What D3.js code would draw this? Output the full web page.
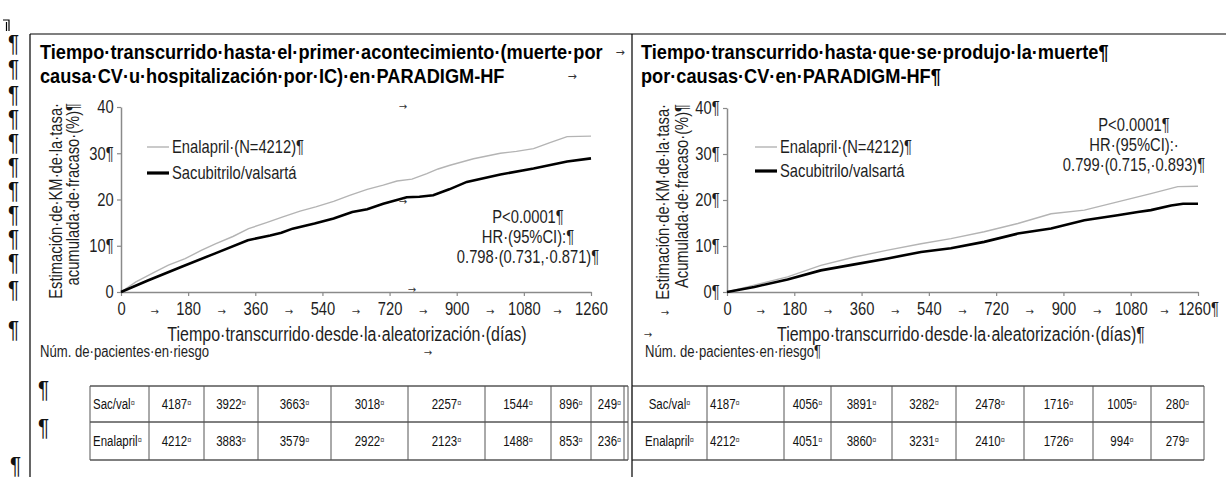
<!DOCTYPE html>
<html>
<head>
<meta charset="utf-8">
<script src="https://cdn.jsdelivr.net/npm/d3@7"></script>
<style>
body { margin: 0; background: #fff; }
svg { display: block; }
text { font-family: "Liberation Sans", Arial, sans-serif; }
</style>
</head>
<body>
<div id="chart"></div>
<script>
// axis ticks
var dayTicks = [0, 180, 360, 540, 720, 900, 1080, 1260];
var pctTicks = [0, 10, 20, 30, 40];

// KM curves [day, %]
var cvhfEnalapril = [[0,0],[40,2.2],[90,4.3],[127,5.8],[172,7.2],[215,9.0],[253,10.4],[300,12.0],[342,13.7],[390,15.0],[432,16.2],[480,17.5],[522,18.4],[570,19.6],[613,20.9],[660,22.2],[703,23.1],[740,24.0],[780,24.4],[820,25.6],[850,26.6],[882,27.4],[945,28.8],[1017,30.0],[1060,30.4],[1106,31.0],[1150,32.3],[1196,33.6],[1260,33.7]];
var cvhfSacval = [[0,0],[72,2.5],[161,5.4],[251,8.3],[340,11.2],[400,12.2],[430,12.8],[460,13.7],[519,14.8],[570,15.9],[620,17.3],[660,17.9],[703,19.1],[766,20.5],[800,20.6],[837,20.9],[880,22.2],[927,23.8],[1017,25.4],[1106,26.7],[1196,28.2],[1260,28.9]];
var cvdEnalapril = [[0,0],[73,1.5],[162,3.3],[251,5.8],[341,7.6],[430,9.1],[519,10.5],[599,11.6],[688,13.1],[778,14.9],[867,17.0],[956,17.8],[1045,19.6],[1134,21.4],[1206,22.9],[1260,23.0]];
var cvdSacval = [[0,0],[73,1.1],[162,2.7],[251,4.7],[341,6.0],[430,7.3],[519,8.7],[599,9.5],[688,10.9],[778,12.7],[867,13.8],[956,15.6],[1045,16.7],[1099,17.4],[1134,17.8],[1188,18.8],[1220,19.2],[1260,19.2]];

// numbers at risk
var riskLabels = ["Sac/val", "Enalapril"];
var cvhfRiskSacval = [4187, 3922, 3663, 3018, 2257, 1544, 896, 249];
var cvhfRiskEnalapril = [4212, 3883, 3579, 2922, 2123, 1488, 853, 236];
var cvdRiskSacval = [4187, 4056, 3891, 3282, 2478, 1716, 1005, 280];
var cvdRiskEnalapril = [4212, 4051, 3860, 3231, 2410, 1726, 994, 279];

var svgWidth = 1226;
var svgHeight = 477;
var axisGrey = "#8a8a8a";
var ink = "#1e1e1e";
var narrow = 0.82; // no Arial Narrow here, so squeeze Liberation Sans

var svg = d3.select("#chart")
  .append("svg")
  .attr("width", svgWidth)
  .attr("height", svgHeight);

svg.append("rect").attr("width", svgWidth).attr("height", svgHeight).attr("fill", "#fff");

// narrow text helper
function ntext(parent, x, y, str, size, anchor, sx) {
  return parent.append("text")
    .attr("transform", `translate(${x},${y}) scale(${sx || narrow},1)`)
    .attr("text-anchor", anchor || "start")
    .style("font-size", size + "px")
    .attr("fill", ink)
    .text(str);
}

// word processor frame lines
svg.append("path")
  .attr("d", "M30,34H1226M30,34V477M632,34V477")
  .attr("stroke", "#000").attr("stroke-width", 1.2).attr("fill", "none");
svg.append("path")
  .attr("d", "M3,20H9V31M6.5,22V31")
  .attr("stroke", "#000").attr("stroke-width", 1.2).attr("fill", "none");

function pilcrow(x, y) {
  svg.append("text")
    .attr("transform", `translate(${x},${y}) scale(0.9,1)`)
    .style("font-size", "23px")
    .attr("fill", "#111")
    .text("¶");
}

// paragraph marks down the left margin
var pilcrowY = [44, 69, 95, 119, 143, 167, 191, 215, 239, 263, 290, 330];
pilcrowY.forEach(function(d) { pilcrow(8, d + 8); });

function arrow(x, y, size) {
  svg.append("text")
    .attr("x", x).attr("y", y)
    .attr("text-anchor", "middle")
    .style("font-family", "DejaVu Sans, sans-serif")
    .style("font-size", (size || 10) + "px")
    .attr("fill", "#333")
    .text("→");
}

function drawPanel(p) {
  var x = d3.scaleLinear().domain([0, 1260]).range([p.left, p.right]);
  var y = d3.scaleLinear().domain([0, 40]).range([p.bottom, p.top]);
  var g = svg.append("g");

  // titles
  p.title.forEach(function(t, i) {
    ntext(g, p.titleX, 59 + i * 24, t, 20, "start", 0.91).style("font-weight", "bold").attr("fill", "#000");
  });

  // axes
  var xAxis = d3.axisBottom(x).tickValues(dayTicks).tickSize(4).tickSizeOuter(0).tickPadding(6)
    .tickFormat(p.xFormat);
  var yAxis = d3.axisLeft(y).tickValues(pctTicks).tickSize(4).tickSizeOuter(0).tickPadding(5)
    .tickFormat(p.yFormat);

  var gx = g.append("g").attr("transform", `translate(0,${p.bottom})`).call(xAxis);
  var gy = g.append("g").attr("transform", `translate(${p.left},0)`).call(yAxis);
  [gx, gy].forEach(function(a) {
    a.select(".domain").attr("stroke", axisGrey).attr("stroke-width", 1.5);
    a.selectAll(".tick line").attr("stroke", axisGrey).attr("stroke-width", 1.2);
    a.selectAll(".tick text").attr("fill", ink).style("font-size", "18px")
      .style("font-family", "Liberation Sans, Arial, sans-serif")
      .attr("transform", `scale(${narrow},1)`);
  });

  // tab arrows between x labels
  for (var i = 0; i < dayTicks.length - 1; i++) {
    arrow((x(dayTicks[i]) + x(dayTicks[i + 1])) / 2, p.bottom + 23);
  }

  // y axis title (two rotated lines)
  p.yTitle.forEach(function(t, i) {
    g.append("text")
      .attr("transform", `translate(${p.yTitleX[i]},${p.top - 4}) rotate(-90) scale(${narrow},1)`)
      .attr("text-anchor", "end")
      .style("font-size", "18px")
      .attr("fill", ink)
      .text(t);
  });

  // x axis title
  ntext(g, p.xTitleX, 341, "Tiempo·transcurrido·desde·la·aleatorización·(días)" + p.xTitleEnd, 19.5, p.xTitleAnchor);

  ntext(g, p.riskX, 357, "Núm. de·pacientes·en·riesgo" + p.riskEnd, 16);

  // curves
  var line = d3.line().x(d => x(d[0])).y(d => y(d[1]));
  g.append("path").datum(p.enalapril)
    .attr("d", line).attr("fill", "none")
    .attr("stroke", "#b4b4b4").attr("stroke-width", 1.4);
  g.append("path").datum(p.sacval)
    .attr("d", line).attr("fill", "none")
    .attr("stroke", "#000").attr("stroke-width", 2.6);

  // legend
  var lg = g.append("g").attr("transform", `translate(${p.legendX},${p.legendY})`);
  lg.append("line").attr("x1", 0).attr("x2", 22).attr("y1", 0).attr("y2", 0)
    .attr("stroke", "#b4b4b4").attr("stroke-width", 1.4);
  ntext(lg, 25, 6, "Enalapril·(N=4212)¶", 18);
  lg.append("line").attr("x1", 0).attr("x2", 22).attr("y1", p.legendGap).attr("y2", p.legendGap)
    .attr("stroke", "#000").attr("stroke-width", 3.2);
  ntext(lg, 25, p.legendGap + 6, "Sacubitrilo/valsartá", 18);

  // stats box
  p.stats.forEach(function(t, i) {
    ntext(g, p.statsX, p.statsY + i * 20, t, 18, "middle");
  });

  // numbers-at-risk table
  var edges = p.cols;
  var rows = [p.riskTop, p.riskMid, p.riskBot];
  var tg = g.append("g");
  rows.forEach(function(ry) {
    tg.append("line").attr("x1", edges[0]).attr("x2", edges[edges.length - 1])
      .attr("y1", ry).attr("y2", ry).attr("stroke", "#000").attr("stroke-width", 1);
  });
  edges.forEach(function(ex) {
    tg.append("line").attr("x1", ex).attr("x2", ex).attr("y1", p.riskTop).attr("y2", p.riskBot)
      .attr("stroke", "#555").attr("stroke-width", 1);
  });
  if (p.doubleEdge) {
    tg.append("line").attr("x1", p.doubleEdge).attr("x2", p.doubleEdge)
      .attr("y1", p.riskTop).attr("y2", p.riskBot).attr("stroke", "#555").attr("stroke-width", 1);
  }
  [p.riskSacval, p.riskEnalapril].forEach(function(vals, r) {
    var cy = (rows[r] + rows[r + 1]) / 2 + 5;
    var cells = [riskLabels[r]].concat(vals);
    cells.forEach(function(v, c) {
      var a = p.align[c];
      var tx = a === "start" ? edges[c] + 3 : (edges[c] + edges[c + 1]) / 2;
      var t = ntext(tg, tx, cy, "", 14, a).attr("fill", "#111");
      t.append("tspan").text(v);
      t.append("tspan").style("font-size", "9px").attr("fill", "#444").attr("dy", -3).text("¤");
    });
  });
}

drawPanel({
  left: 121, right: 591, top: 107, bottom: 292,
  titleX: 40,
  title: ["Tiempo·transcurrido·hasta·el·primer·acontecimiento·(muerte·por", "causa·CV·u·hospitalización·por·IC)·en·PARADIGM-HF"],
  xFormat: d => d,
  yFormat: d => (d === 10 || d === 30) ? d + "¶" : d,
  yTitle: ["Estimación·de·KM·de·la·tasa·", "acumulada·de·fracaso·(%)¶"],
  yTitleX: [62, 79],
  xTitleX: 347, xTitleAnchor: "middle", xTitleEnd: "",
  riskX: 40, riskEnd: "",
  enalapril: cvhfEnalapril, sacval: cvhfSacval,
  legendX: 147, legendY: 147, legendGap: 26,
  stats: ["P<0.0001¶", "HR·(95%CI):¶", "0.798·(0.731,·0.871)¶"],
  statsX: 528, statsY: 223,
  cols: [90, 149, 204, 258, 331, 408, 485, 551, 591, 628],
  doubleEdge: 624,
  align: ["start", "middle", "middle", "middle", "middle", "middle", "middle", "middle", "middle"],
  riskTop: 386, riskMid: 422, riskBot: 460,
  riskSacval: cvhfRiskSacval, riskEnalapril: cvhfRiskEnalapril
});

drawPanel({
  left: 727, right: 1198, top: 108, bottom: 292,
  titleX: 641,
  title: ["Tiempo·transcurrido·hasta·que·se·produjo·la·muerte¶", "por·causas·CV·en·PARADIGM-HF¶"],
  xFormat: d => d === 1260 ? d + "¶" : d,
  yFormat: d => d + "¶",
  yTitle: ["Estimación·de·KM·de·la·tasa·", "Acumulada·de·fracaso·(%)¶"],
  yTitleX: [669, 688],
  xTitleX: 777, xTitleAnchor: "start", xTitleEnd: "¶",
  riskX: 645, riskEnd: "¶",
  enalapril: cvdEnalapril, sacval: cvdSacval,
  legendX: 755, legendY: 147, legendGap: 24,
  stats: ["P<0.0001¶", "HR·(95%CI):·", "0.799·(0.715,·0.893)¶"],
  statsX: 1134, statsY: 131,
  cols: [632, 707, 784, 831, 892, 956, 1024, 1093, 1151, 1204],
  doubleEdge: null,
  align: ["middle", "start", "middle", "middle", "middle", "middle", "middle", "middle", "middle"],
  riskTop: 386, riskMid: 422, riskBot: 460,
  riskSacval: cvdRiskSacval, riskEnalapril: cvdRiskEnalapril
});

// stray tab marks from the source document
arrow(620, 56, 11);
arrow(572, 80, 11);
arrow(403, 110);
arrow(403, 205);
arrow(412, 293);
arrow(428, 356);
arrow(648, 338);
arrow(665, 316);

// marks beside the table and below it
pilcrow(38, 398);
pilcrow(38, 436);
pilcrow(10, 474);
</script>
</body>
</html>
